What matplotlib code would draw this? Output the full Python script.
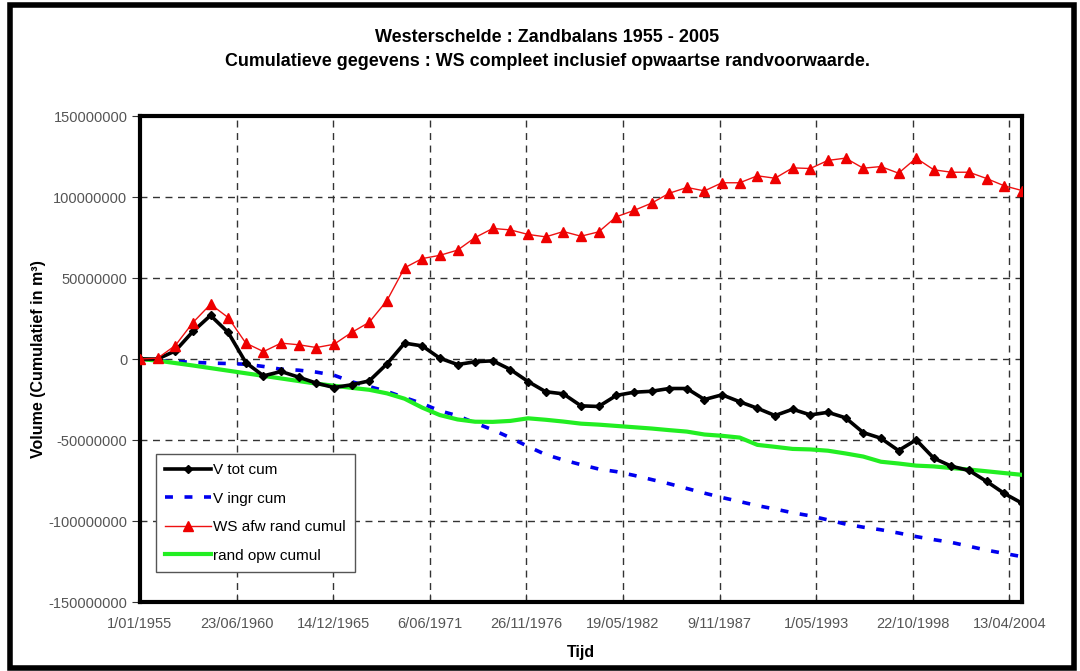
import datetime as dt
import matplotlib
matplotlib.use("Agg")
import matplotlib.pyplot as plt
import matplotlib.dates as mdates
from matplotlib.patches import Rectangle
from matplotlib.ticker import FuncFormatter, MultipleLocator, FixedLocator

plt.rcParams['font.family'] = ['Liberation Sans', 'DejaVu Sans']

# yearly values, in million m3
years = list(range(1955, 2006))

v_tot = [0, 0, 5, 17, 26.9, 16.4, -2.2, -10.4, -7.7, -11.2,
         -14.9, -17.6, -15.9, -13.5, -3, 9.8, 8.1, 0.5, -3.4, -1.7,
         -1.1, -6.5, -13.9, -20.2, -21.5, -28.9, -29.3, -22.5, -20.5, -19.9,
         -18.2, -18.2, -25, -22.1, -26.4, -30.4, -34.9, -31, -34.5, -32.9,
         -36.3, -45.4, -48.9, -56.5, -49.9, -61.2, -66.2, -68.8, -75.6, -83,
         -89]

v_ingr = [0, -1, -1.5, -2, -2.5, -2.8, -3.2, -4.6, -6.3, -6.9,
          -8.1, -10, -14, -17, -20, -23.8, -27.5, -32, -35, -39.5,
          -43.7, -48.6, -54, -59, -62.3, -65.2, -67.9, -69.5, -71.8, -74.4,
          -77, -79.9, -82.8, -85.5, -88, -90.5, -92.6, -94.9, -96.8, -99.3,
          -101.9, -103.8, -105.4, -107.4, -109.6, -111.5, -113.2, -115.6, -118, -120,
          -122]

ws_afw = [0, 0.5, 8.3, 22.5, 33.8, 25.6, 9.8, 4.6, 9.8, 8.8,
          7.1, 9.1, 16.4, 22.7, 36.1, 56.3, 62, 64, 67.2, 75,
          80.6, 79.7, 76.9, 75.4, 78.7, 75.8, 78.5, 87.8, 91.7, 96.2,
          102.3, 105.9, 103.8, 108.8, 108.8, 113.1, 111.6, 118, 117.6, 122.6,
          124, 117.8, 118.8, 114.7, 124, 116.8, 115.3, 115.3, 111.4, 106.9,
          104]

rand_opw = [0, -1, -2.5, -4, -5.6, -7.2, -8.8, -10.4, -12, -13.6,
            -15.2, -16.5, -17.8, -19, -21.2, -24.5, -30, -34.6, -37.3, -38.7,
            -38.8, -38.2, -36.6, -37.5, -38.6, -39.9, -40.5, -41.3, -42.1, -42.9,
            -43.9, -44.8, -46.6, -47.4, -48.5, -53, -54.2, -55.5, -55.8, -56.6,
            -58.3, -60.2, -63.4, -64.5, -65.8, -66.3, -67.3, -68.2, -69.3, -70.4,
            -71.5]

dates = [dt.datetime(y, 1, 1) for y in years]
scale = 1e6

fig = plt.figure(figsize=(10.8, 6.71), dpi=100)
ax = fig.add_axes([0.1296, 0.1028, 0.8167, 0.7243])

ax.plot(dates, [v * scale for v in v_tot], color='black', lw=2.6,
        marker='D', ms=4, label='V tot cum', zorder=4)
ax.plot(dates, [v * scale for v in v_ingr], color='#0000ee', lw=2.6,
        linestyle=(0, (2.2, 3.2)), label='V ingr cum', zorder=3)
ax.plot(dates, [v * scale for v in ws_afw], color='#ee1111', lw=1,
        marker='^', ms=7, mec='#ee0000', mfc='#ee0000', label='WS afw rand cumul', zorder=5)
ax.plot(dates, [v * scale for v in rand_opw], color='#22ee22', lw=3,
        label='rand opw cumul', zorder=3)

# x axis: Excel style date axis, one tick every 2000 days
start = dt.datetime(1955, 1, 1)
ticks = [start + dt.timedelta(days=2000 * k) for k in range(10)]
ax.set_xlim(start, dt.datetime(2005, 1, 1))
ax.xaxis.set_major_locator(FixedLocator(mdates.date2num(ticks)))
ax.xaxis.set_major_formatter(FuncFormatter(
    lambda v, p: (lambda d: f"{d.day}/{d.month:02d}/{d.year}")(mdates.num2date(v))))

ax.set_ylim(-150e6, 150e6)
ax.yaxis.set_major_locator(MultipleLocator(50e6))
ax.yaxis.set_major_formatter(FuncFormatter(lambda v, p: f"{int(round(v))}"))

ax.grid(True, color='#333333', linestyle=(0, (5, 4)), lw=1)
ax.tick_params(axis='x', direction='in', length=6, labelsize=10.5, pad=11)
ax.tick_params(axis='y', direction='out', length=6, labelsize=10.5, pad=3)
ax.tick_params(axis='both', labelcolor='#555555', color='#333333')
for s in ax.spines.values():
    s.set_linewidth(3)
    s.set_color('black')

ax.set_xlabel('Tijd', fontsize=11.5, fontweight='bold')
ax.xaxis.set_label_coords(0.5, -0.088)
ax.set_ylabel('Volume (Cumulatief in m³)', fontsize=11.5, fontweight='bold')
ax.yaxis.set_label_coords(-0.106, 0.5)

fig.text(0.507, 0.944, 'Westerschelde : Zandbalans 1955 - 2005',
         ha='center', va='center', fontsize=13, fontweight='bold')
fig.text(0.507, 0.909, 'Cumulatieve gegevens : WS compleet inclusief opwaartse randvoorwaarde.',
         ha='center', va='center', fontsize=12.9, fontweight='bold')

leg = ax.legend(loc='lower left', bbox_to_anchor=(0.018, 0.062), fontsize=11,
                frameon=True, fancybox=False, framealpha=1, edgecolor='#555555',
                handlelength=3.0, handletextpad=0.15, labelspacing=0.95,
                borderpad=0.6, borderaxespad=0)
leg.get_frame().set_linewidth(1)

# outer chart frame
fig.patches.append(Rectangle((0.009, 0.004), 0.985, 0.988, transform=fig.transFigure,
                             fill=False, lw=4, edgecolor='black'))

fig.savefig('out.png', dpi=100)
